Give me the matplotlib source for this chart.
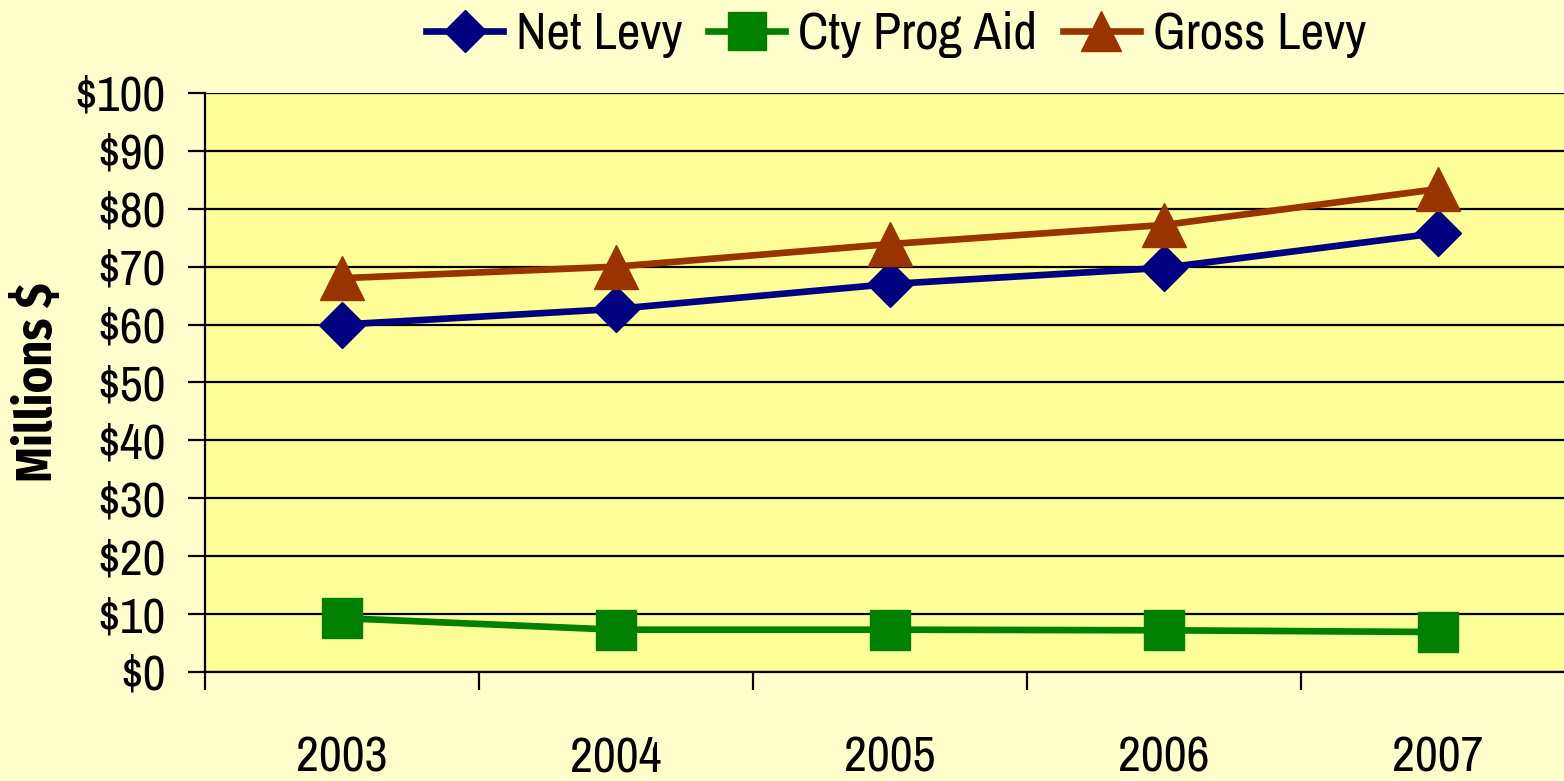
import matplotlib.pyplot as plt
import numpy as np

years = ['2003', '2004', '2005', '2006', '2007']
net_levy = [60.0, 62.7, 67.0, 69.8, 75.8]
cty_prog_aid = [9.3, 7.3, 7.3, 7.2, 6.9]
gross_levy = [68.0, 70.0, 73.9, 77.2, 83.4]

plt.rcParams['font.family'] = ['Liberation Sans Narrow', 'Archivo Narrow', 'DejaVu Sans']

fig = plt.figure(figsize=(15.64, 7.81), dpi=100, facecolor='#FFFFCC')
ax = fig.add_axes([0.131, 0.1396, 0.876, 0.7414])
ax.set_facecolor('#FFFF99')

x = np.arange(len(years))
ax.plot(x, net_levy, color='#000080', lw=4.8, marker='D', ms=23, label='Net Levy')
ax.plot(x, cty_prog_aid, color='#008000', lw=4.8, marker='s', ms=29, label='Cty Prog Aid')
ax.plot(x, gross_levy, color='#993300', lw=4.8, marker='^', ms=31, label='Gross Levy')

ax.set_ylim(0, 100)
ax.set_xlim(-0.5, 4.5)
ax.set_yticks(np.arange(0, 101, 10))
ax.set_yticklabels([f'${v}' for v in range(0, 101, 10)])
ax.yaxis.grid(True, color='black', lw=1.6)
ax.set_axisbelow(True)

ax.set_xticks(x)
ax.set_xticklabels(years)
ax.set_xticks(np.arange(-0.5, 4.6, 1), minor=True)
ax.tick_params(axis='x', which='major', length=0, pad=46, labelsize=36)
ax.tick_params(axis='x', which='minor', length=13, width=1.6)
ax.tick_params(axis='y', length=12, width=1.6, pad=16, labelsize=36)

for s in ['top', 'right']:
    ax.spines[s].set_visible(False)
for s in ['left', 'bottom']:
    ax.spines[s].set_linewidth(1.6)

ax.set_ylabel('Millions $', fontsize=36, fontweight='bold', labelpad=8,
              family=['Liberation Sans Narrow', 'Fira Sans Condensed', 'DejaVu Sans'])

fig.legend(loc='upper center', bbox_to_anchor=(0.573, 1.045), ncol=3, frameon=False,
           fontsize=37, handlelength=1.5, handletextpad=0.25, columnspacing=0.5,
           markerscale=0.95)

fig.savefig('out.png', facecolor=fig.get_facecolor())
